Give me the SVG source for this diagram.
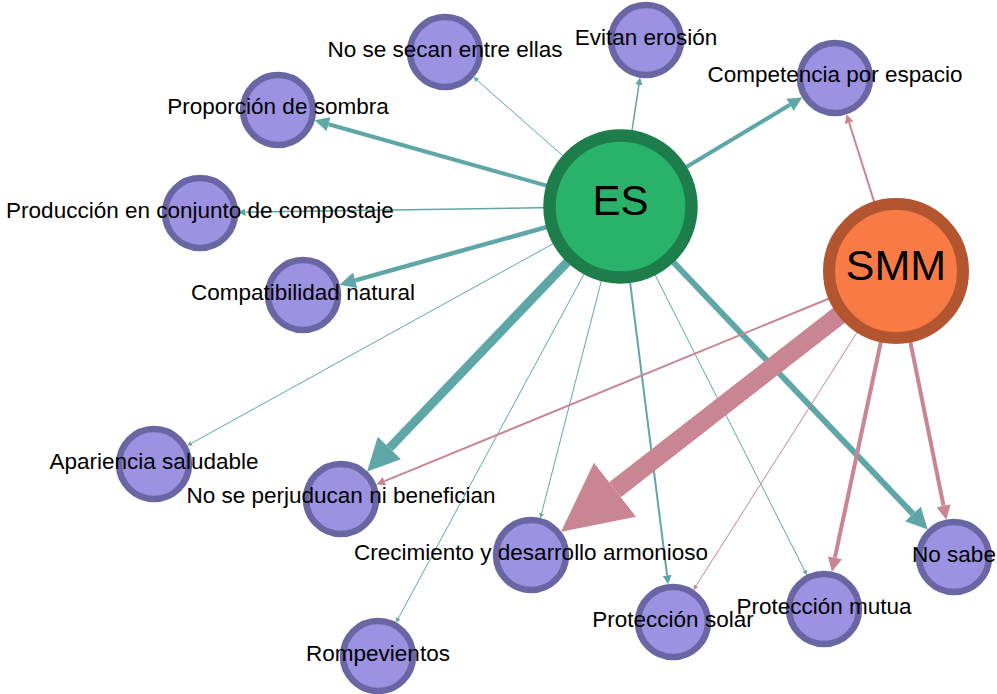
<svg xmlns="http://www.w3.org/2000/svg" width="997" height="694" viewBox="0 0 997 694">
<style>
.bg{fill:#ffffff}
.e{fill:none;stroke-linecap:butt}
.t{stroke:#5fa7a7}
.p{stroke:#c98592}
.n{fill:#9b92e2;stroke:#6a66a3;stroke-width:6.5}
.lbl{font-family:"Liberation Sans",Arial,sans-serif;font-size:22.5px;fill:#000;text-anchor:middle}
.big{font-family:"Liberation Sans",Arial,sans-serif;fill:#000;text-anchor:middle}
</style>
<defs>
<marker id="tA" viewBox="0 0 10 10" refX="0" refY="5" markerWidth="3.6" markerHeight="3.6" markerUnits="strokeWidth" orient="auto"><path d="M0,0 L10,5 L0,10 z" fill="#5fa7a7"/></marker>
<marker id="tB" viewBox="0 0 10 10" refX="0" refY="5" markerWidth="4.5" markerHeight="4.5" markerUnits="strokeWidth" orient="auto"><path d="M0,0 L10,5 L0,10 z" fill="#5fa7a7"/></marker>
<marker id="tC" viewBox="0 0 10 10" refX="0" refY="5" markerWidth="5" markerHeight="5" markerUnits="strokeWidth" orient="auto"><path d="M0,0 L10,5 L0,10 z" fill="#5fa7a7"/></marker>
<marker id="pA" viewBox="0 0 10 10" refX="0" refY="5" markerWidth="3.6" markerHeight="3.6" markerUnits="strokeWidth" orient="auto"><path d="M0,0 L10,5 L0,10 z" fill="#c98592"/></marker>
<marker id="pB" viewBox="0 0 10 10" refX="0" refY="5" markerWidth="4.5" markerHeight="4.5" markerUnits="strokeWidth" orient="auto"><path d="M0,0 L10,5 L0,10 z" fill="#c98592"/></marker>
<marker id="pC" viewBox="0 0 10 10" refX="0" refY="5" markerWidth="5" markerHeight="5" markerUnits="strokeWidth" orient="auto"><path d="M0,0 L10,5 L0,10 z" fill="#c98592"/></marker>
</defs>
<rect class="bg" x="0" y="0" width="997" height="694"/>
<g id="connectors">
<line class="e t" x1="620.5" y1="206.5" x2="477.3" y2="80.4" stroke-width="1" marker-end="url(#tC)"/>
<line class="e t" x1="620.5" y1="206.5" x2="638.9" y2="84.9" stroke-width="1.5" marker-end="url(#tC)"/>
<line class="e t" x1="620.5" y1="206.5" x2="789.9" y2="104.8" stroke-width="4" marker-end="url(#tA)"/>
<line class="e t" x1="620.5" y1="206.5" x2="328.5" y2="124.2" stroke-width="4" marker-end="url(#tA)"/>
<line class="e t" x1="620.5" y1="206.5" x2="245.5" y2="212.2" stroke-width="1.5" marker-end="url(#tC)"/>
<line class="e t" x1="620.5" y1="206.5" x2="355.2" y2="280.3" stroke-width="4.5" marker-end="url(#tA)"/>
<line class="e t" x1="620.5" y1="206.5" x2="191.6" y2="443.2" stroke-width="1" marker-end="url(#tC)"/>
<line class="e t" x1="620.5" y1="206.5" x2="389.5" y2="448.0" stroke-width="9" marker-end="url(#tA)"/>
<line class="e t" x1="620.5" y1="206.5" x2="398.4" y2="618.1" stroke-width="1" marker-end="url(#tC)"/>
<line class="e t" x1="620.5" y1="206.5" x2="541.6" y2="513.3" stroke-width="1" marker-end="url(#tC)"/>
<line class="e t" x1="620.5" y1="206.5" x2="667.1" y2="575.4" stroke-width="2" marker-end="url(#tB)"/>
<line class="e t" x1="620.5" y1="206.5" x2="804.6" y2="570.6" stroke-width="1" marker-end="url(#tC)"/>
<line class="e t" x1="620.5" y1="206.5" x2="912.9" y2="513.9" stroke-width="6" marker-end="url(#tA)"/>
<line class="e p" x1="896" y1="271" x2="849.2" y2="122.8" stroke-width="2" marker-end="url(#pB)"/>
<line class="e p" x1="896" y1="271" x2="384.5" y2="481.2" stroke-width="2" marker-end="url(#pB)"/>
<line class="e p" x1="896" y1="271" x2="696.1" y2="585.7" stroke-width="1" marker-end="url(#pC)"/>
<line class="e p" x1="896" y1="271" x2="834.9" y2="557.7" stroke-width="4" marker-end="url(#pA)"/>
<line class="e p" x1="896" y1="271" x2="943.5" y2="505.7" stroke-width="4" marker-end="url(#pA)"/>
<line class="e p" x1="896" y1="271" x2="615.0" y2="489.7" stroke-width="19" marker-end="url(#pA)"/>
</g>
<g id="node-no-se-secan"><circle class="n" cx="445" cy="52" r="35"/></g>
<g id="node-evitan"><circle class="n" cx="646" cy="40" r="35"/></g>
<g id="node-competencia"><circle class="n" cx="835" cy="78" r="35"/></g>
<g id="node-proporcion"><circle class="n" cx="278" cy="110" r="35"/></g>
<g id="node-produccion"><circle class="n" cx="200" cy="213" r="35"/></g>
<g id="node-compatibilidad"><circle class="n" cx="303" cy="295" r="35"/></g>
<g id="node-apariencia"><circle class="n" cx="154" cy="464" r="35"/></g>
<g id="node-no-se-perjuducan"><circle class="n" cx="341" cy="499" r="35"/></g>
<g id="node-crecimiento"><circle class="n" cx="531" cy="555" r="35"/></g>
<g id="node-proteccion-solar"><circle class="n" cx="673" cy="622" r="35"/></g>
<g id="node-proteccion-mutua"><circle class="n" cx="824" cy="609" r="35"/></g>
<g id="node-no-sabe"><circle class="n" cx="954" cy="557" r="35"/></g>
<g id="node-rompevientos"><circle class="n" cx="378" cy="656" r="35"/></g>
<g id="node-es"><circle cx="620.5" cy="206.5" r="71" fill="#29b36a" stroke="#1e7e4b" stroke-width="12.5"/><text class="big" x="620.5" y="215" font-size="42">ES</text></g>
<g id="node-smm"><circle cx="896" cy="271" r="67" fill="#f87a44" stroke="#b3552e" stroke-width="12"/><text class="big" x="896" y="280" font-size="43">SMM</text></g>
<g id="labels">
<text class="lbl" x="445" y="56.5">No se secan entre ellas</text>
<text class="lbl" x="646" y="44.5">Evitan erosión</text>
<text class="lbl" x="835" y="82">Competencia por espacio</text>
<text class="lbl" x="278" y="114">Proporción de sombra</text>
<text class="lbl" x="200" y="217.5">Producción en conjunto de compostaje</text>
<text class="lbl" x="303" y="299.5">Compatibilidad natural</text>
<text class="lbl" x="154" y="468.5">Apariencia saludable</text>
<text class="lbl" x="341" y="503">No se perjuducan ni benefician</text>
<text class="lbl" x="531" y="560">Crecimiento y desarrollo armonioso</text>
<text class="lbl" x="673" y="626.5">Protección solar</text>
<text class="lbl" x="824" y="613.5">Protección mutua</text>
<text class="lbl" x="954" y="561.5">No sabe</text>
<text class="lbl" x="378" y="661">Rompevientos</text>
</g>
</svg>
